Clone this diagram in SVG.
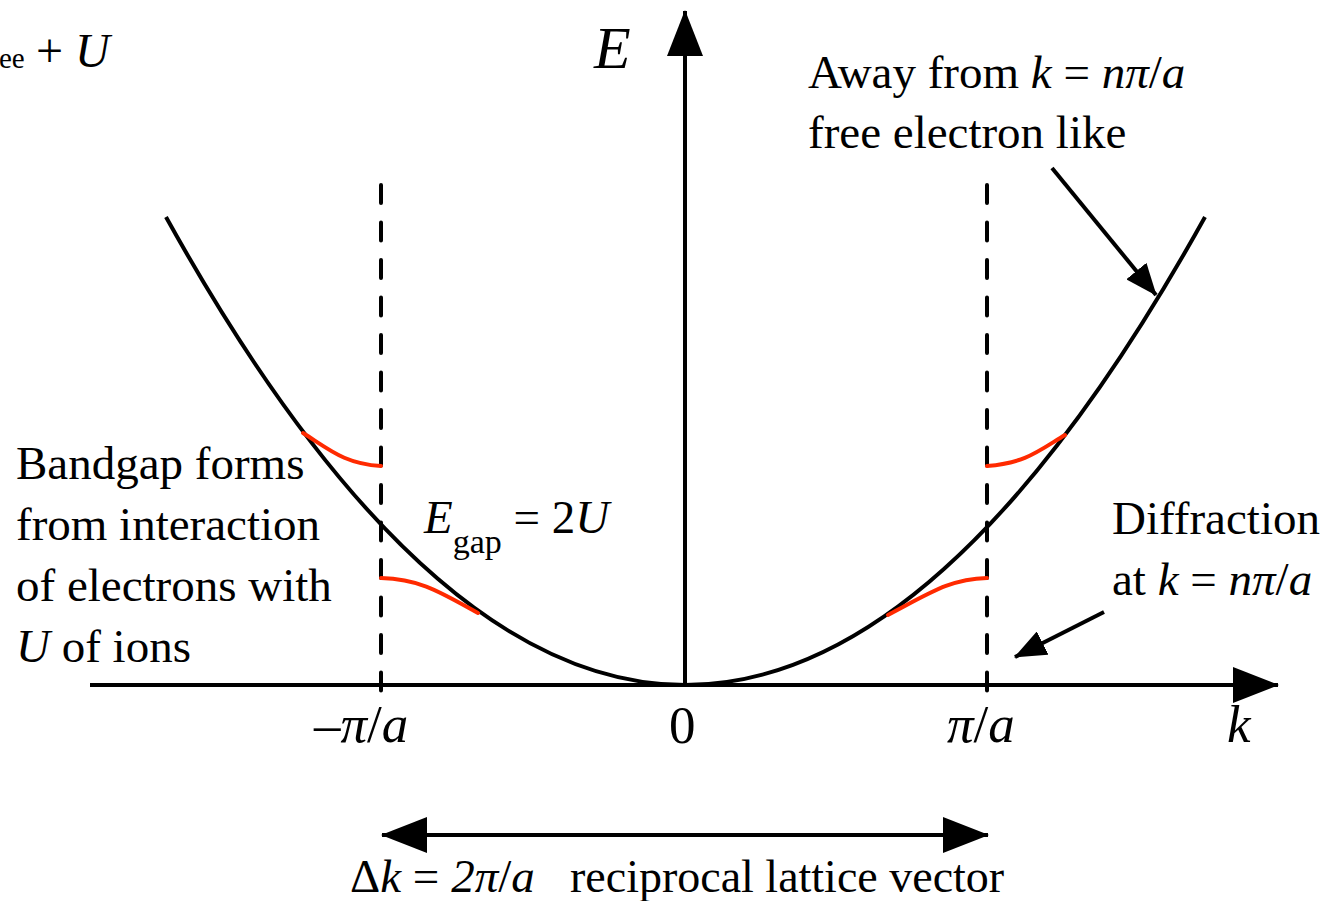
<svg xmlns="http://www.w3.org/2000/svg" width="1325" height="901" viewBox="0 0 1325 901">
<style>
.t{font-family:"Liberation Serif","Times New Roman",serif;font-size:47px;fill:#000}
.i{font-style:italic}
.ax{stroke:#000;stroke-width:4;fill:none}
.dash{stroke:#000;stroke-width:4;fill:none;stroke-dasharray:18 19.5;stroke-linecap:round}
.ptr{stroke:#000;stroke-width:4;fill:none}
.band{stroke:#000;stroke-width:4;fill:none}
.red{stroke:#ff2a00;stroke-width:4;fill:none;stroke-linecap:round}
</style>
<defs>
<marker id="ah" viewBox="0 0 46 36" refX="45" refY="18" markerWidth="46" markerHeight="36" markerUnits="userSpaceOnUse" orient="auto-start-reverse">
<path d="M0,0 L46,18 L0,36 Z" fill="#000"/>
</marker>
<marker id="sa" viewBox="0 0 32 26" refX="31" refY="13" markerWidth="32" markerHeight="26" markerUnits="userSpaceOnUse" orient="auto">
<path d="M0,0 L32,13 L0,26 Z" fill="#000"/>
</marker>
</defs>
<rect width="1325" height="901" fill="#fff"/>
<g id="connectors">
<line class="ax" x1="90" y1="685" x2="1278" y2="685" marker-end="url(#ah)"/>
<line class="ax" x1="685" y1="687" x2="685" y2="11" marker-end="url(#ah)"/>
<line class="dash" x1="381" y1="185" x2="381" y2="694"/>
<line class="dash" x1="987" y1="185" x2="987" y2="694"/>
<line class="ax" x1="382" y1="835" x2="988" y2="835" marker-start="url(#ah)" marker-end="url(#ah)"/>
<line class="ptr" x1="1052" y1="168" x2="1156" y2="295" marker-end="url(#sa)"/>
<line class="ptr" x1="1104" y1="612" x2="1015" y2="657" marker-end="url(#sa)"/>
</g>
<g id="band">
<path class="band" d="M166,217 Q685,1153 1205,217"/>
</g>
<g id="gap-curves">
<path class="red" d="M303,433 C330,450 345,464 381,466"/>
<path class="red" d="M381,578 C420,579 440,592 478,613"/>
<path class="red" d="M987,466 C1025,463 1037,452 1065,435"/>
<path class="red" d="M987,578 C950,579 930,593 888,615"/>
</g>
<g id="label-top-left">
<text class="t" x="-1" y="68" style="font-size:29px">ee</text>
<text class="t" x="36" y="67" style="font-size:48px">+ <tspan class="i">U</tspan></text>
</g>
<g id="label-E">
<text class="t i" x="594" y="68" style="font-size:60px">E</text>
</g>
<g id="label-away">
<text class="t" x="808" y="88">Away from <tspan class="i">k</tspan> = <tspan class="i">nπ</tspan>/<tspan class="i">a</tspan></text>
<text class="t" x="808" y="148">free electron like</text>
</g>
<g id="label-bandgap">
<text class="t" x="16" y="479">Bandgap forms</text>
<text class="t" x="16" y="540">from interaction</text>
<text class="t" x="16" y="601">of electrons with</text>
<text class="t" x="16" y="662"><tspan class="i">U</tspan> of ions</text>
</g>
<g id="label-egap">
<text class="t" x="424" y="533"><tspan class="i">E</tspan><tspan dy="20" style="font-size:34px">gap</tspan><tspan dy="-20"> = 2</tspan><tspan class="i">U</tspan></text>
</g>
<g id="label-diffraction">
<text class="t" x="1112" y="534">Diffraction</text>
<text class="t" x="1112" y="595">at <tspan class="i">k</tspan> = <tspan class="i">nπ</tspan>/<tspan class="i">a</tspan></text>
</g>
<g id="tick-labels">
<text class="t" x="314" y="742" style="font-size:53px">–<tspan class="i">π</tspan>/<tspan class="i">a</tspan></text>
<text class="t" x="669" y="743" style="font-size:53px">0</text>
<text class="t" x="947" y="742" style="font-size:53px"><tspan class="i">π</tspan>/<tspan class="i">a</tspan></text>
<text class="t i" x="1227" y="742" style="font-size:53px">k</text>
</g>
<g id="label-deltak">
<text class="t" x="350" y="892" xml:space="preserve">Δ<tspan class="i">k</tspan> = <tspan class="i">2π</tspan>/<tspan class="i">a</tspan>  <tspan x="570" style="font-size:46px">reciprocal lattice vector</tspan></text>
</g>
</svg>
